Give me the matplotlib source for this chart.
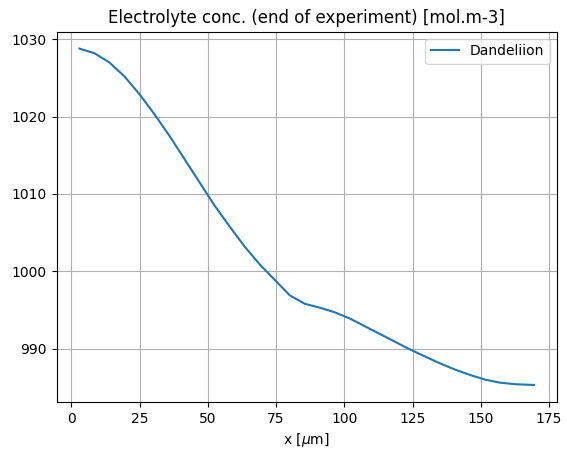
import matplotlib
matplotlib.use("Agg")
import matplotlib.pyplot as plt

x_um = [3, 8.5, 14, 19.5, 25, 30.5, 36, 41.5, 47, 52.5, 58, 63.5, 69, 74.5, 80, 85.5, 91, 96.5, 102, 107.5, 113, 118.5, 124, 129.5, 135, 140.5, 146, 151.5, 157, 162.5, 169.5]
conc = [1028.8, 1028.2, 1027.0, 1025.2, 1022.9, 1020.3, 1017.5, 1014.5, 1011.5, 1008.5, 1005.8, 1003.2, 1000.9, 998.9, 996.9, 995.8, 995.3, 994.7, 993.9, 992.9, 991.9, 990.9, 989.9, 989.0, 988.1, 987.3, 986.6, 986.0, 985.6, 985.4, 985.3]

fig, ax = plt.subplots(figsize=(5.67, 4.54), dpi=100)
ax.plot(x_um, conc, label="Dandeliion")
ax.set_title("Electrolyte conc. (end of experiment) [mol.m-3]")
ax.set_xlabel(r"x [$\mu$m]")
ax.grid(True)
ax.legend(loc="upper right")
fig.subplots_adjust(left=0.1, right=0.982, top=0.93, bottom=0.115)
fig.savefig("out.png")
